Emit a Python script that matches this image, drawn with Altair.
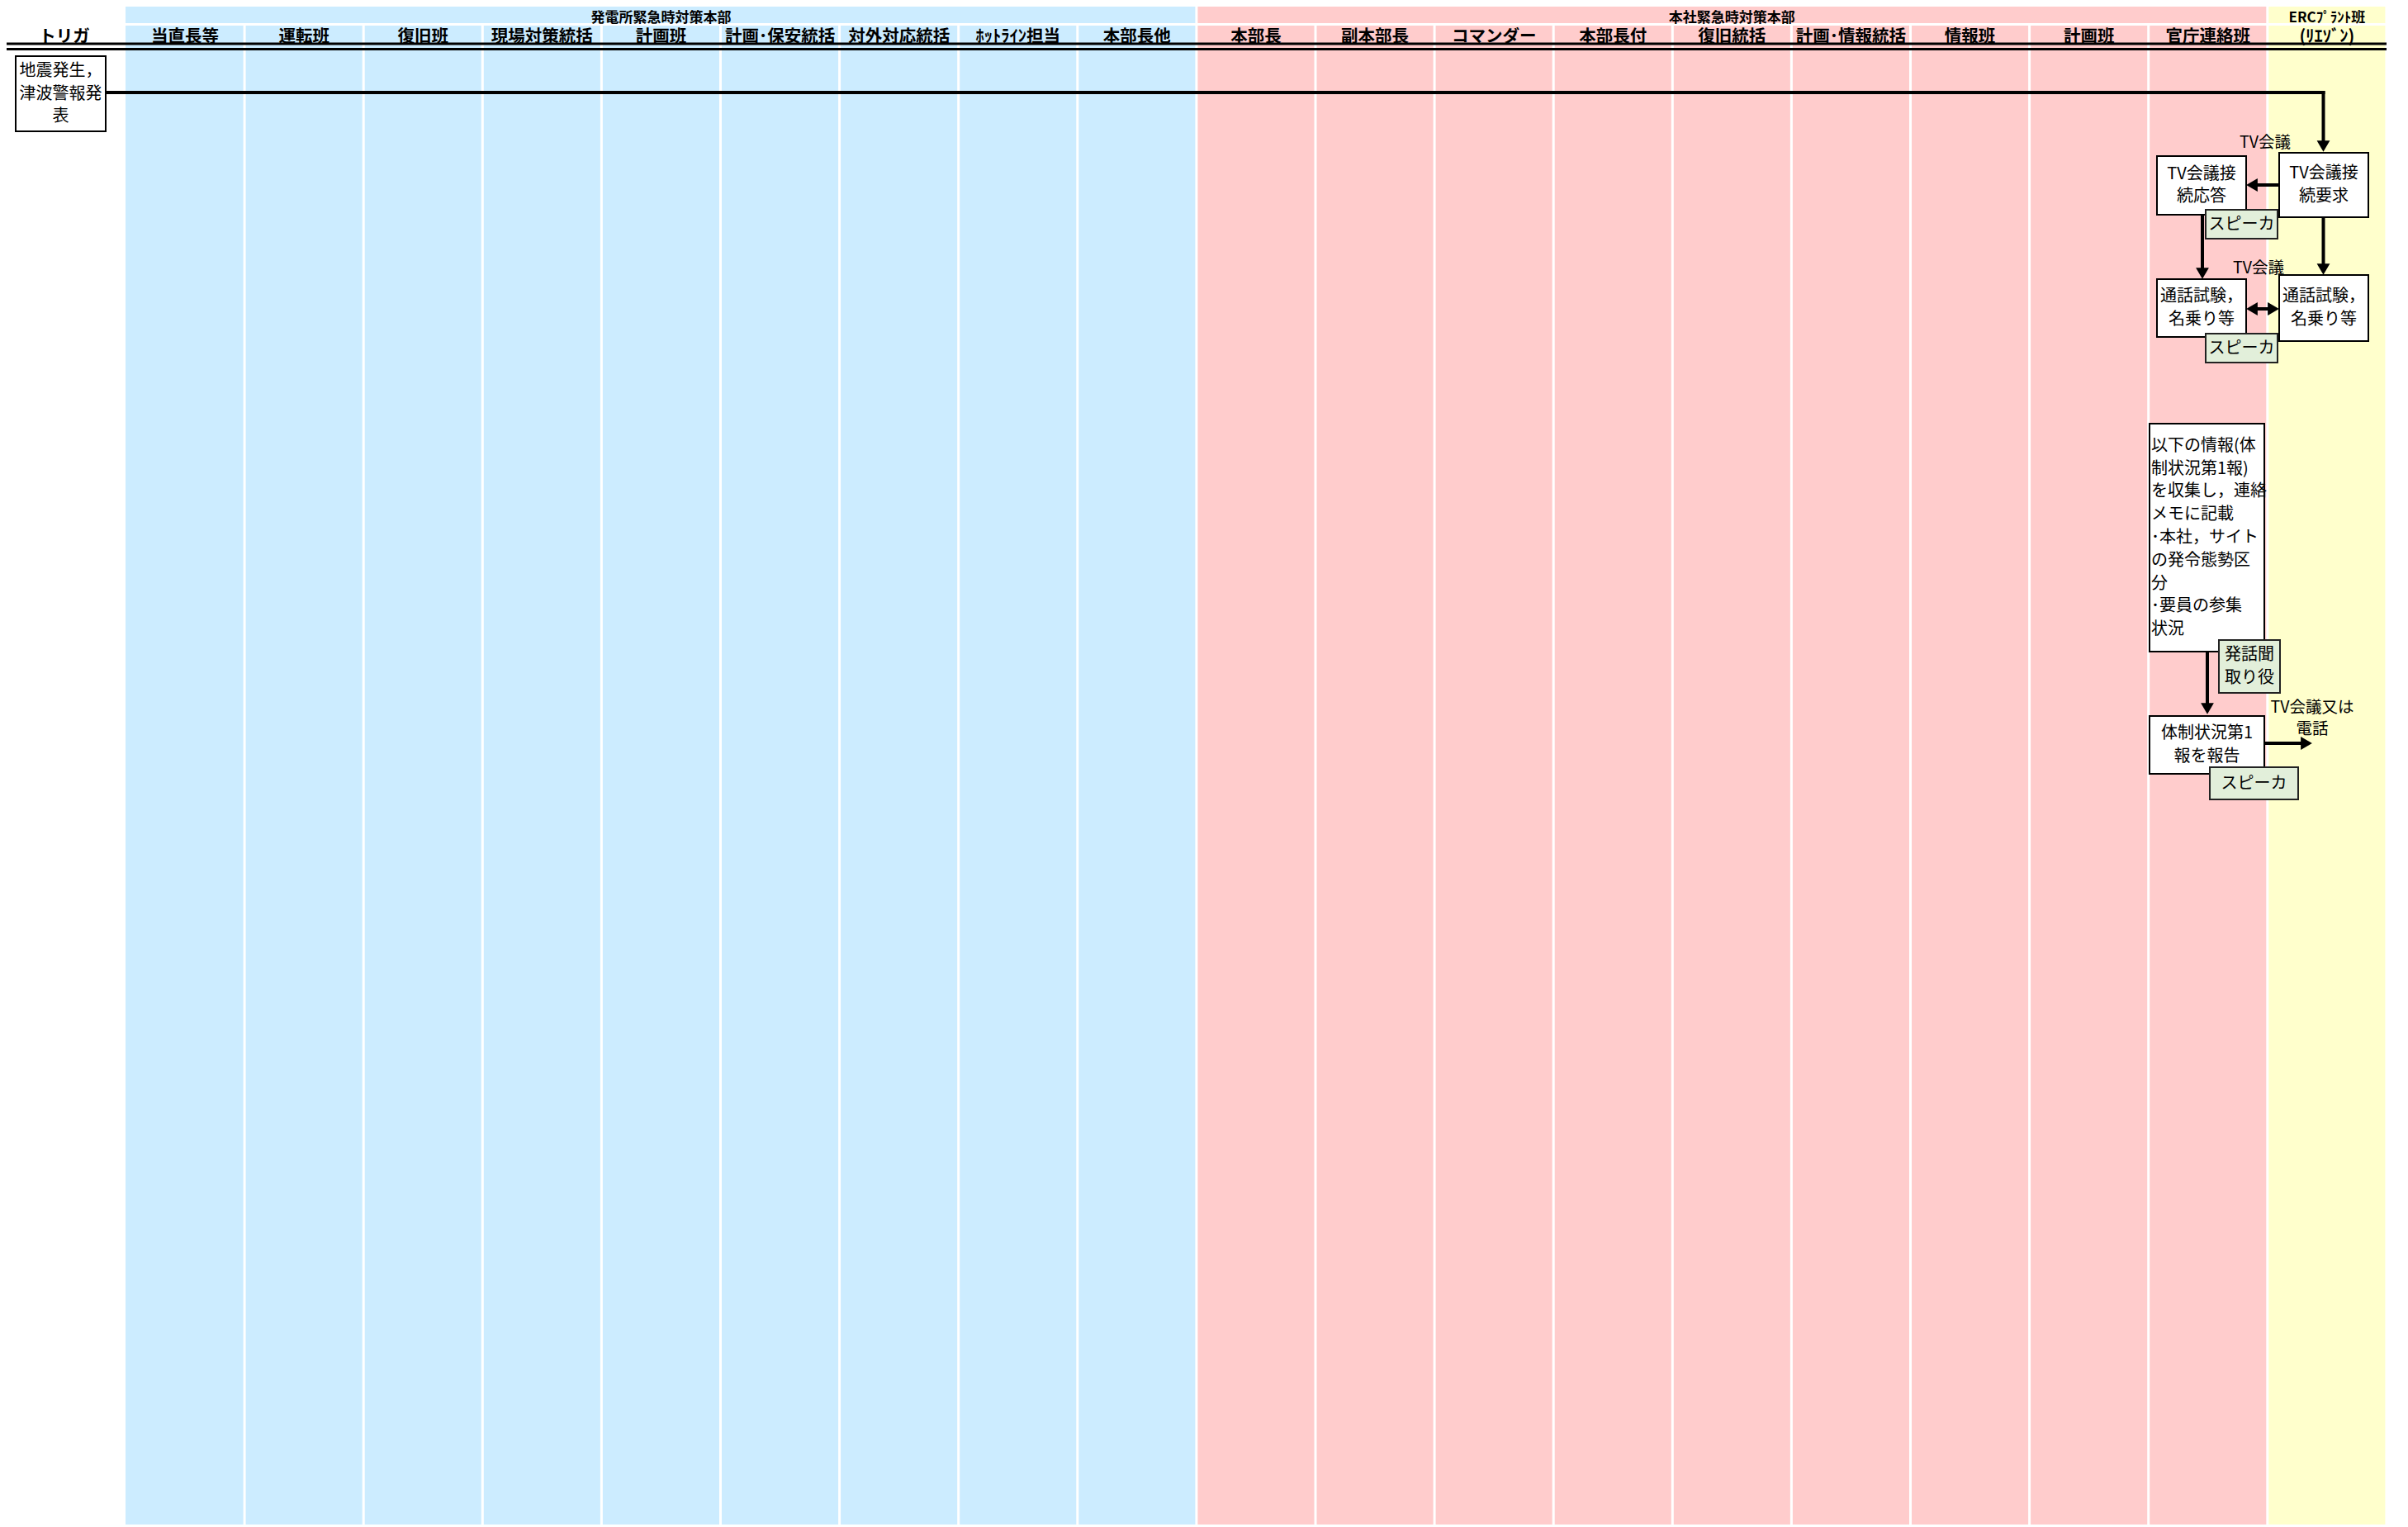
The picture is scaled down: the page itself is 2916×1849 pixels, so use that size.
import altair as alt
import pandas as pd

# ---------------- data ----------------
LANES = ["当直長等", "運転班", "復旧班", "現場対策統括", "計画班", "計画･保安統括",
         "対外対応統括", "ﾎｯﾄﾗｲﾝ担当", "本部長他",
         "本部長", "副本部長", "コマンダー", "本部長付", "復旧統括", "計画･情報統括",
         "情報班", "計画班", "官庁連絡班",
         "(ﾘｴｿﾞﾝ)"]
GROUP_NAMES = ["発電所緊急時対策本部", "本社緊急時対策本部", "ERCﾌﾟﾗﾝﾄ班"]
GROUP_FIRST = [0, 9, 18]
GROUP_LAST = [9, 18, 19]
GROUP_COLORS = ["#CCECFF", "#FFCCCC", "#FFFFCC"]
GROUP_FONT = [17, 17, 17]
GROUP_BASE = [27, 27, 27.3]
TRIGGER_LABEL = "トリガ"

# process boxes (pixel geometry of the diagram)
BOX_X0 = [19, 2760, 2612, 2612, 2760, 2603, 2603]
BOX_X1 = [128, 2868, 2720, 2720, 2868, 2742, 2742]
BOX_Y0 = [68, 185, 189, 338, 333, 513, 867]
BOX_Y1 = [159, 263, 260, 408, 413, 789, 937]
BOX_LINES = [
    ["地震発生，", "津波警報発", "表"],
    ["TV会議接", "続要求"],
    ["TV会議接", "続応答"],
    ["通話試験，", "名乗り等"],
    ["通話試験，", "名乗り等"],
    ["以下の情報(体", "制状況第1報)", "を収集し，連絡", "メモに記載",
     "･本社，サイト", "の発令態勢区", "分", "･要員の参集", "状況"],
    ["体制状況第1", "報を報告"],
]
BOX_ALIGN = ["center", "center", "center", "center", "center", "left", "center"]

# role tags (green)
TAG_X0 = [2671, 2671, 2687, 2676]
TAG_X1 = [2758, 2758, 2761, 2783]
TAG_Y0 = [254, 404, 775, 929]
TAG_Y1 = [289, 439, 839, 968]
TAG_LINES = [["スピーカ"], ["スピーカ"], ["発話聞", "取り役"], ["スピーカ"]]

# free labels
LABEL_TEXT = ["TV会議", "TV会議", "TV会議又は", "電話"]
LABEL_X = [2743, 2735, 2800, 2800]
LABEL_Y = [173, 325, 857, 883]

# arrow segments and heads
SEG_X0 = [128, 2813.5, 2760, 2667, 2813.5, 2727, 2673, 2742]
SEG_X1 = [2815.5, 2813.5, 2727, 2667, 2813.5, 2753, 2673, 2793]
SEG_Y0 = [112, 110, 224, 260, 263, 374, 789, 900]
SEG_Y1 = [112, 177, 224, 331, 326, 374, 858, 900]
HEAD_X = [2813.5, 2727, 2667, 2813.5, 2727, 2753, 2673, 2793]
HEAD_Y = [177, 224, 331, 326, 374, 374, 858, 900]
HEAD_SHAPE = ["triangle-down", "triangle-left", "triangle-down", "triangle-down",
              "triangle-left", "triangle-right", "triangle-down", "triangle-right"]

# ---------------- layout ----------------
W, H = 2896, 1838
XS = alt.Scale(domain=[8, 8 + W], nice=False, zero=False)
YS = alt.Scale(domain=[8, 8 + H], nice=False, zero=False, reverse=True)
LANE_START, LANE_W, GAP = 152.0, 144.1, 1.5
BOTTOM = 8 + H
JP = "Noto Sans CJK JP"


def lane_x(i):
    return LANE_START + LANE_W * i


def group_of(i):
    for g in range(len(GROUP_NAMES)):
        if GROUP_FIRST[g] <= i < GROUP_LAST[g]:
            return g
    return 0


lanes = pd.DataFrame({
    "x0": [lane_x(i) + (0 if i == 0 else GAP) for i in range(len(LANES))],
    "x1": [lane_x(i + 1) - GAP for i in range(len(LANES))],
    "y0": [31] * len(LANES),
    "y1": [BOTTOM] * len(LANES),
    "fill": [GROUP_COLORS[group_of(i)] for i in range(len(LANES))],
})
lane_labels = pd.DataFrame({
    "t": LANES + [TRIGGER_LABEL],
    "xc": [lane_x(i) + LANE_W / 2 for i in range(len(LANES))] + [78],
    "yt": [51] * (len(LANES) + 1),
})

groups = pd.DataFrame({
    "x0": [lane_x(a) + (0 if a == 0 else GAP) for a in GROUP_FIRST],
    "x1": [lane_x(b) - GAP for b in GROUP_LAST],
    "y0": [8] * 3, "y1": [28] * 3,
    "fill": GROUP_COLORS, "t": GROUP_NAMES,
    "xc": [(lane_x(a) + lane_x(b)) / 2 for a, b in zip(GROUP_FIRST, GROUP_LAST)],
    "yt": GROUP_BASE,
    "fs": GROUP_FONT,
})

dbl = pd.DataFrame({"x0": [8, 8], "x1": [2890, 2890], "y0": [53, 59.5], "y1": [53, 59.5]})

boxes = pd.DataFrame({"x0": BOX_X0, "x1": BOX_X1, "y0": BOX_Y0, "y1": BOX_Y1})
tags = pd.DataFrame({"x0": TAG_X0, "x1": TAG_X1, "y0": TAG_Y0, "y1": TAG_Y1})

LINE_H = 27.8


def text_rows(x0s, x1s, y0s, y1s, lines, aligns):
    rows = []
    for k in range(len(lines)):
        n = len(lines[k])
        yc = (y0s[k] + y1s[k]) / 2
        for j, s in enumerate(lines[k]):
            al = aligns[k]
            rows.append({
                "t": s,
                "x": x0s[k] + 2 if al == "left" else (x0s[k] + x1s[k]) / 2,
                "y": yc + (j - (n - 1) / 2) * LINE_H,
                "al": al,
            })
    return pd.DataFrame(rows)


box_txt = text_rows(BOX_X0, BOX_X1, BOX_Y0, BOX_Y1, BOX_LINES, BOX_ALIGN)
tag_txt = text_rows(TAG_X0, TAG_X1, TAG_Y0, TAG_Y1, TAG_LINES, ["center"] * len(TAG_LINES))
all_txt = pd.concat([box_txt, tag_txt], ignore_index=True)
labels = pd.DataFrame({"t": LABEL_TEXT, "x": LABEL_X, "y": LABEL_Y})

segs = pd.DataFrame({"x0": SEG_X0, "x1": SEG_X1, "y0": SEG_Y0, "y1": SEG_Y1})
heads = pd.DataFrame({"x": HEAD_X, "y": HEAD_Y, "shape": HEAD_SHAPE})


def rect_enc(ch):
    return ch.encode(
        x=alt.X("x0:Q", scale=XS, axis=None), x2="x1:Q",
        y=alt.Y("y0:Q", scale=YS, axis=None), y2="y1:Q",
    )


lane_rects = rect_enc(alt.Chart(lanes).mark_rect()).encode(fill=alt.Fill("fill:N", scale=None))
group_rects = rect_enc(alt.Chart(groups).mark_rect()).encode(fill=alt.Fill("fill:N", scale=None))

group_text = alt.Chart(groups).mark_text(font=JP, fontWeight="bold",
                                         align="center", baseline="alphabetic", color="black").encode(
    x=alt.X("xc:Q", scale=XS, axis=None), y=alt.Y("yt:Q", scale=YS, axis=None), text="t:N",
    size=alt.Size("fs:Q", scale=None))
lane_text = alt.Chart(lane_labels).mark_text(font=JP, fontSize=20.5, fontWeight="bold",
                                             align="center", baseline="alphabetic", color="black").encode(
    x=alt.X("xc:Q", scale=XS, axis=None), y=alt.Y("yt:Q", scale=YS, axis=None), text="t:N")

dbl_rules = alt.Chart(dbl).mark_rule(color="black", strokeWidth=2.8).encode(
    x=alt.X("x0:Q", scale=XS, axis=None), x2="x1:Q",
    y=alt.Y("y0:Q", scale=YS, axis=None), y2="y1:Q")

seg_rules = alt.Chart(segs).mark_rule(color="black", strokeWidth=4).encode(
    x=alt.X("x0:Q", scale=XS, axis=None), x2="x1:Q",
    y=alt.Y("y0:Q", scale=YS, axis=None), y2="y1:Q")

box_rects = rect_enc(alt.Chart(boxes).mark_rect(fill="white", stroke="black", strokeWidth=2))
tag_rects = rect_enc(alt.Chart(tags).mark_rect(fill="#E2EFDA", stroke="#222222", strokeWidth=2))

txt_center = alt.Chart(all_txt[all_txt["al"] == "center"]).mark_text(
    font=JP, fontSize=20, align="center", baseline="middle", color="black").encode(
    x=alt.X("x:Q", scale=XS, axis=None), y=alt.Y("y:Q", scale=YS, axis=None), text="t:N")
txt_left = alt.Chart(all_txt[all_txt["al"] == "left"]).mark_text(
    font=JP, fontSize=20, align="left", baseline="middle", color="black").encode(
    x=alt.X("x:Q", scale=XS, axis=None), y=alt.Y("y:Q", scale=YS, axis=None), text="t:N")
label_text = alt.Chart(labels).mark_text(
    font=JP, fontSize=19.5, align="center", baseline="middle", color="black").encode(
    x=alt.X("x:Q", scale=XS, axis=None), y=alt.Y("y:Q", scale=YS, axis=None), text="t:N")

head_pts = alt.Chart(heads).mark_point(filled=True, color="black", opacity=1, size=250,
                                       strokeWidth=0).encode(
    x=alt.X("x:Q", scale=XS, axis=None), y=alt.Y("y:Q", scale=YS, axis=None),
    shape=alt.Shape("shape:N", scale=None))

chart = alt.layer(
    lane_rects, group_rects, group_text, lane_text, dbl_rules,
    seg_rules, box_rects, tag_rects, txt_center, txt_left, label_text, head_pts,
).properties(
    width=W, height=H, padding=0, autosize=alt.AutoSizeParams(type="none"),
).configure_view(stroke=None)

chart.save("out.html", embed_options={"renderer": "svg", "actions": False})
